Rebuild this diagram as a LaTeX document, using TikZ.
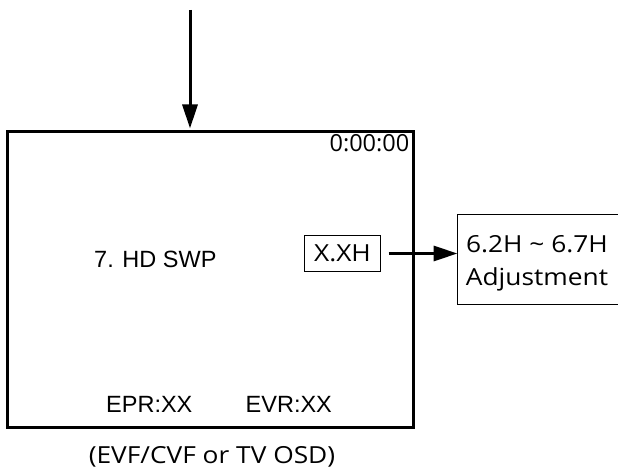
\documentclass[tikz,border=0pt]{standalone}
\usepackage{fontspec}
\setmainfont{Liberation Sans}
\newfontfamily\thinfont{Open Sans}
\newfontfamily\thinwide{Open Sans}[FakeStretch=1.12]
\usetikzlibrary{arrows.meta}
\tikzset{
  screenbox/.style={draw, line width=3pt, inner sep=0pt, outer sep=0pt, minimum width=406pt, minimum height=296pt},
  valbox/.style={draw, line width=1pt, inner sep=0pt, outer sep=0pt, minimum width=76pt, minimum height=36pt, font=\thinwide\fontsize{23.5}{28}\selectfont},
  adjbox/.style={draw, line width=1.3pt, inner sep=0pt, outer sep=0pt, minimum width=172pt, minimum height=90pt},
  arr/.style={line width=3pt, -{Triangle[length=24pt, width=15pt]}},
  lbl/.style={inner sep=0pt, anchor=base west, font=\fontsize{23.5}{28}\selectfont},
  thinlbl/.style={inner sep=0pt, font=\thinfont\fontsize{23.5}{28}\selectfont},
  widelbl/.style={inner sep=0pt, anchor=base, font=\thinwide\fontsize{23.5}{28}\selectfont}
}
\begin{document}
\begin{tikzpicture}[x=1pt, y=-1pt]
\clip (0,0) rectangle (618,473);
\fill[white] (0,0) rectangle (618,473);
\node[screenbox] (screen) at (210.5,279.5) {};
\node[valbox] (xbox) at (342.5,253.5) {X.XH};
\node[adjbox] (adj) at (543.5,259.5) {};
\node[widelbl] (range) at (537,252) {6.2H \textasciitilde{} 6.7H};
\node[widelbl] (adjtxt) at (537,285) {Adjustment};
\coordinate (top) at (190,10);
\node[thinlbl, anchor=base east] (time) at (409.5,151.5) {0:00:00};
\node[lbl] (title) at (94,267.3) {7. HD SWP};
\node[lbl] (epr) at (106,412) {EPR:XX};
\node[lbl] (evr) at (245.5,412) {EVR:XX};
\node[widelbl] (cap) at (212,463.3) {(EVF/CVF or TV OSD)};
\draw[arr, shorten >=3pt] (top) -- (top |- screen.north);
\draw[arr, shorten <=8pt] (xbox.east) -- (xbox.east -| adj.west);
\end{tikzpicture}
\end{document}
